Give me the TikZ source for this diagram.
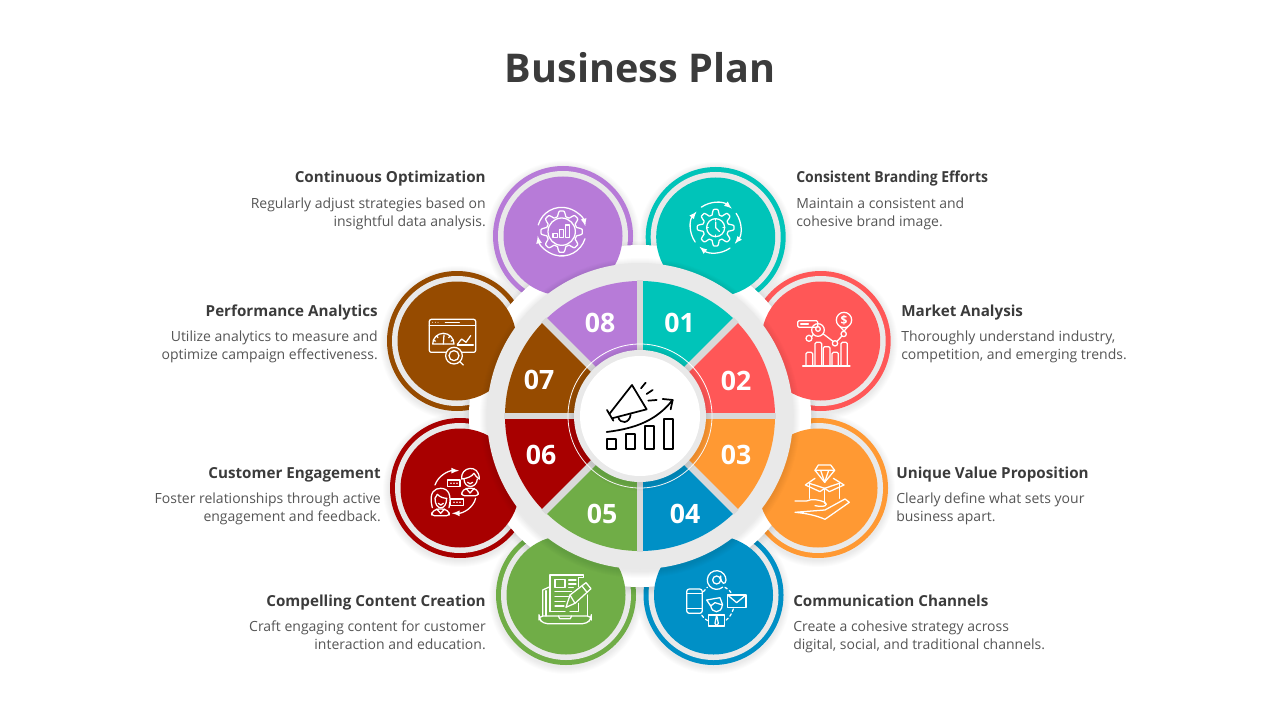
\documentclass[tikz,border=0pt]{standalone}
\usepackage{fontspec}
\setmainfont{Open Sans}
\usetikzlibrary{positioning,calc}

\definecolor{colA}{HTML}{00C4B9}
\definecolor{colB}{HTML}{FF5757}
\definecolor{colC}{HTML}{FF9933}
\definecolor{colD}{HTML}{0090C6}
\definecolor{colE}{HTML}{70AD47}
\definecolor{colF}{HTML}{A80000}
\definecolor{colG}{HTML}{964B00}
\definecolor{colH}{HTML}{B77BD8}
\definecolor{ringgray}{HTML}{E9E9E9}
\definecolor{gapgray}{HTML}{D9D9D9}
\definecolor{inkhead}{HTML}{3B3B3B}
\definecolor{inkbody}{HTML}{555555}

\tikzset{
  headtxt/.style={font=\fontsize{11.4}{13}\selectfont\bfseries,text=inkhead,inner sep=0pt},
  bodytxt/.style={font=\fontsize{10.5}{13.5}\selectfont,text=inkbody,inner sep=0pt},
  numtxt/.style={font=\fontsize{20}{24}\selectfont\bfseries,text=white,inner sep=0pt},
  icon/.style={draw=white,line width=0.95pt,line join=round,line cap=round},
  iconblk/.style={draw=black,line width=1.3pt,line join=round,line cap=round},
}

% soft shadow round a disc: centre, radius
\newcommand{\softshadow}[2]{%
  \foreach \s in {1,...,7} {\fill[black,opacity=0.012] ($#1+(0,2)$) circle ({#2+\s});}}

\begin{document}
\begin{tikzpicture}[x=0.75pt,y=-0.75pt]
\useasboundingbox (0,0) rectangle (1280,720);

% Title
\node[font=\fontsize{29.7}{36}\selectfont\bfseries,text=inkhead,inner sep=0pt] (title) at (640,68) {Business Plan};

% Outer rings of the petals
\foreach \c/\x/\y in {colA/715.7/237,colB/820.7/341,colC/818/488,colD/713.5/595,colE/566/595,colF/460/488,colG/457/341,colH/563/236} {
  \softshadow{(\x,\y)}{70}
  \fill[\c] (\x,\y) circle (70);
  \fill[ringgray] (\x,\y) circle (65);
}

% White disc behind the wheel
\softshadow{(640,416)}{170}
\fill[white] (640,416) circle (171);

% Petal discs
\foreach \c/\x/\y in {colA/715.7/237,colB/820.7/341,colC/818/488,colD/713.5/595,colE/566/595,colF/460/488,colG/457/341,colH/563/236} {
  \fill[\c] (\x,\y) circle (59.5);
}

% Wheel
\softshadow{(640,416)}{153}
\fill[ringgray] (640,416) circle (153);
\begin{scope}[shift={(640,416)}]
  \foreach \c [count=\k from 0] in {colA,colB,colC,colD,colE,colF,colG,colH} {
    \fill[\c] (0,0) -- ({-90+45*\k}:135) arc ({-90+45*\k}:{-45+45*\k}:135) -- cycle;
  }
  \foreach \a in {0,45,...,315} {
    \draw[gapgray,line width=5.2pt] (0,0) -- (\a:136);
  }
  \draw[white,line width=0.6pt] (0,0) circle (72);
\end{scope}
\softshadow{(640,416)}{66}
\fill[ringgray] (640,416) circle (66);
\fill[white] (640,416) circle (60);

% Numbers
\foreach \n/\x/\y in {01/679.5/323,02/736/381,03/736/455,04/685/514,05/602/514,06/541/455,07/539/380,08/600/323} {
  \node[numtxt] (num\n) at (\x,\y) {\n};
}

% Texts on the right
\node[headtxt,anchor=base west] (headA) at (796,183) {\scalebox{0.92}[1]{Consistent Branding Efforts}};
\node[bodytxt,anchor=north west,align=left] (bodyA) at (796,198) {Maintain a consistent and\\cohesive brand image.};
\node[headtxt,anchor=base west] (headB) at (901,316) {Market Analysis};
\node[bodytxt,anchor=north west,align=left] (bodyB) at (901,331) {Thoroughly understand industry,\\competition, and emerging trends.};
\node[headtxt,anchor=base west] (headC) at (896,478) {Unique Value Proposition};
\node[bodytxt,anchor=north west,align=left] (bodyC) at (896,493) {Clearly define what sets your\\business apart.};
\node[headtxt,anchor=base west] (headD) at (793,606) {Communication Channels};
\node[bodytxt,anchor=north west,align=left] (bodyD) at (793,621) {Create a cohesive strategy across\\digital, social, and traditional channels.};

% Texts on the left
\node[headtxt,anchor=base east] (headE) at (486,606) {Compelling Content Creation};
\node[bodytxt,anchor=north east,align=right] (bodyE) at (486,621) {Craft engaging content for customer\\interaction and education.};
\node[headtxt,anchor=base east] (headF) at (381,478) {Customer Engagement};
\node[bodytxt,anchor=north east,align=right] (bodyF) at (381,493) {Foster relationships through active\\engagement and feedback.};
\node[headtxt,anchor=base east] (headG) at (378,316) {Performance Analytics};
\node[bodytxt,anchor=north east,align=right] (bodyG) at (378,331) {Utilize analytics to measure and\\optimize campaign effectiveness.};
\node[headtxt,anchor=base east] (headH) at (486,183) {Continuous Optimization};
\node[bodytxt,anchor=north east,align=right] (bodyH) at (486,198) {Regularly adjust strategies based on\\insightful data analysis.};

% Centre icon: megaphone and growth bars
\begin{scope}[shift={(480,250)},scale=0.3333,iconblk]
  \draw (380,568) rectangle (408,598);
  \draw (437,552) rectangle (465,598);
  \draw (494,528) rectangle (522,598);
  \draw (551,508) rectangle (579,598);
  \draw (380,546) .. controls (470,535) and (530,510) .. (578,450);
  \draw (548,447) -- (578,450) -- (572,478);
  \draw (388,492) -- (456,405) -- (500,478) -- (396,505);
  \draw (381,480) -- (400,512);
  \draw (415,502) .. controls (420,522) and (448,522) .. (452,494);
  \draw (483,415) -- (497,398);
  \draw (500,432) -- (518,420);
  \draw (505,452) -- (530,450);
\end{scope}

% Icon 01: clock in a gear
\begin{scope}[shift={(480,160)},scale=0.3333,icon]
  \draw[shift={(707,203)}] plot[domain=0:360,samples=145] (\x:{47+8*max(-0.6,min(0.6,cos(8*\x)))/0.6});
  \draw (707,203) circle (27);
  \foreach \a in {0,90,180,270} {\draw[shift={(707,203)}] (\a:27) -- (\a:22);}
  \draw (707,186) -- (707,203) -- (718,214);
  \foreach \a in {-125,-35,55,145} {
    \draw[->,>=latex,shift={(707,203)}] (\a:75) arc (\a:{\a+75}:75);
  }
\end{scope}

% Icon 02: market chart
\begin{scope}[shift={(760,265)},scale=0.3333,icon]
  \draw (128,303) -- (270,303);
  \draw[rounded corners=1pt] (138,303) -- (138,262) -- (158,262) -- (158,303);
  \draw[rounded corners=1pt] (165,303) -- (165,232) -- (185,232) -- (185,303);
  \draw[rounded corners=1pt] (190,303) -- (190,245) -- (210,245) -- (210,303);
  \draw[rounded corners=1pt] (216,303) -- (216,262) -- (235,262) -- (235,303);
  \draw[rounded corners=1pt] (243,303) -- (243,232) -- (262,232) -- (262,303);
  \draw (147,220) circle (9);
  \draw (174,195) circle (19);
  \draw (174,192) circle (7);
  \draw (225,235) circle (8);
  \draw (251,207) circle (8);
  \draw (155,215) -- (160,208);
  \draw (190,207) -- (219,229) (231,229) -- (246,213);
  \draw (252,165) circle (23);
  \draw (240,185) -- (252,198) -- (264,185);
  \node[font=\fontsize{9}{9}\selectfont\bfseries,text=white,inner sep=0pt] (dollar) at (252,165) {\$};
  \draw[rounded corners=1pt] (113,167) rectangle (173,187);
  \draw (122,177) -- (145,177);
\end{scope}

% Icon 03: gem, box and hand
\begin{scope}[shift={(760,265)},scale=0.3333,icon]
  \draw (175,600) -- (212,600) -- (224,616) -- (194,652) -- (165,616) -- cycle;
  \draw (165,616) -- (224,616) (182,616) -- (194,652) -- (206,616);
  \draw (148,655) -- (148,700) (238,655) -- (238,700);
  \draw (194,670) -- (194,715);
  \draw (148,655) -- (194,670) -- (238,655);
  \draw (136,660) -- (165,640) (136,660) -- (180,680) -- (194,670);
  \draw (252,660) -- (220,640) (252,660) -- (208,680) -- (194,670);
  \draw (105,708) -- (140,708) .. controls (155,700) and (180,705) .. (195,712)
        .. controls (205,720) and (195,728) .. (165,722);
  \draw (195,735) -- (255,702) -- (268,712) -- (195,763) .. controls (170,752) and (140,745) .. (105,742) -- cycle;
\end{scope}

% Icon 04: channels round a person
\begin{scope}[shift={(490,530)},scale=0.3333,icon]
  \draw (698,171.5) arc (50:360:28) .. controls (708,165) and (692,165) .. (692,138);
  \draw (680,150) circle (12);
  \draw[rounded corners=2pt] (590,177) rectangle (637,250);
  \draw (590,190) -- (637,190) (590,235) -- (637,235);
  \draw (713,195) rectangle (768,232);
  \draw (713,195) -- (740,218) -- (768,195);
  \draw (662,225) .. controls (664,252) and (695,252) .. (697,225);
  \draw (650,210) -- (690,203) -- (698,225) -- (675,218) -- (662,228) -- cycle;
  \draw (656,288) rectangle (703,255);
  \draw (680,255) -- (675,280) -- (680,288) -- (685,280) -- cycle;
  \draw[dash pattern=on 2pt off 2pt] (705,172) to[bend left=15] (725,190);
  \draw[dash pattern=on 2pt off 2pt] (730,237) to[bend left=15] (707,272);
  \draw[dash pattern=on 2pt off 2pt] (653,272) to[bend left=15] (632,250);
  \draw[dash pattern=on 2pt off 2pt] (640,185) to[bend left=15] (652,172);
\end{scope}

% Icon 05: document on a laptop
\begin{scope}[shift={(490,530)},scale=0.3333,icon]
  \draw[rounded corners=3pt] (147,258) -- (304,258) -- (304,266) -- (290,281) -- (160,281) -- (147,266) -- cycle;
  \draw (205,258) -- (209,266) -- (241,266) -- (245,258);
  \draw (158,258) -- (158,180) -- (180,170);
  \draw (292,258) -- (292,195);
  \draw (168,258) -- (168,182);
  \draw (180,245) -- (180,135) -- (280,135) -- (280,142) -- (265,142) -- (265,170);
  \draw (180,245) -- (225,245);
  \draw (265,220) -- (265,245) -- (240,245);
  \draw (195,148) rectangle (225,172);
  \foreach \y/\e in {150/258,162/258,172/250} {\draw (236,\y) -- (\e,\y);}
  \foreach \y/\e in {185/245,200/235,215/225,228/222} {\draw (195,\y) -- (\e,\y);}
  \draw (228,232) -- (240,195) -- (288,158) -- (303,176) -- (255,220) -- cycle;
  \draw (240,195) -- (255,220) (276,168) -- (291,187);
\end{scope}

% Icon 06: two people talking
\begin{scope}[shift={(380,265)},scale=0.3333,icon]
  % man on the right
  \draw (245,642) .. controls (240,605) and (298,595) .. (298,642);
  \draw (245,642) .. controls (262,640) and (275,635) .. (282,625) .. controls (285,632) and (292,638) .. (298,642);
  \draw (252,642) .. controls (252,672) and (290,672) .. (292,642);
  \draw (263,652) .. controls (266,658) and (274,658) .. (278,652);
  \draw[rounded corners=2pt] (245,692) -- (245,680) -- (258,670) -- (283,670) -- (295,680) -- (295,692) -- cycle;
  \draw (258,670) -- (270,684) -- (283,670);
  % woman on the left
  \draw (157,728) .. controls (145,680) and (165,670) .. (182,670) .. controls (205,670) and (216,690) .. (207,728);
  \draw (165,700) .. controls (165,738) and (200,738) .. (200,700) .. controls (190,700) and (178,695) .. (172,688) -- cycle;
  \draw (175,715) .. controls (178,722) and (187,722) .. (190,715);
  \draw[rounded corners=2pt] (155,752) -- (155,742) -- (170,732) -- (194,732) -- (208,742) -- (208,752) -- cycle;
  \draw (170,732) -- (182,745) -- (194,732);
  % arrows and bubbles
  \draw[->,>=latex] (165,660) .. controls (175,632) and (205,617) .. (237,617);
  \draw[->,>=latex] (287,700) .. controls (280,728) and (250,745) .. (216,745);
  \draw (203,645) rectangle (240,665);
  \draw (212,702) rectangle (250,722);
  \foreach \x in {213,222,231} {\fill[white] (\x,655) circle (2.5);}
  \foreach \x in {222,231,240} {\fill[white] (\x,712) circle (2.5);}
\end{scope}

% Icon 07: analytics window
\begin{scope}[shift={(380,265)},scale=0.3333,icon]
  \draw[rounded corners=1.5pt] (148,163) rectangle (287,262);
  \draw (148,182) -- (287,182);
  \draw (196,172) -- (238,172);
  \foreach \x in {158,166,174} {\fill[white] (\x,172) circle (1.5);}
  \draw (158,237) arc (180:360:32) -- cycle;
  \foreach \a in {200,230,310,340} {\draw[shift={(190,237)}] (\a:32) -- (\a:25);}
  \draw (190,237) -- (192,210);
  \draw (232,240) -- (280,240);
  \draw (232,238) -- (245,222) -- (258,232) -- (272,212);
  \fill[colG] (222,272) circle (25);
  \draw (222,272) circle (25);
  \draw (222,272) circle (15);
  \draw (240,290) -- (250,300);
\end{scope}

% Icon 08: bars in a gear
\begin{scope}[shift={(480,160)},scale=0.3333,icon]
  \draw[shift={(245,215)}] plot[domain=0:360,samples=145] (\x:{54+8*max(-0.6,min(0.6,cos(8*\x)))/0.6});
  \draw (245,215) circle (41);
  \draw (219,221) rectangle (232,232);
  \draw (238,208) rectangle (250,232);
  \draw (256,195) rectangle (269,232);
  \draw[->,>=latex,shift={(245,215)}] (196:73) arc (196:347:73);
  \draw[->,>=latex,shift={(245,215)}] (17:73) arc (17:170:73);
\end{scope}

\end{tikzpicture}
\end{document}
